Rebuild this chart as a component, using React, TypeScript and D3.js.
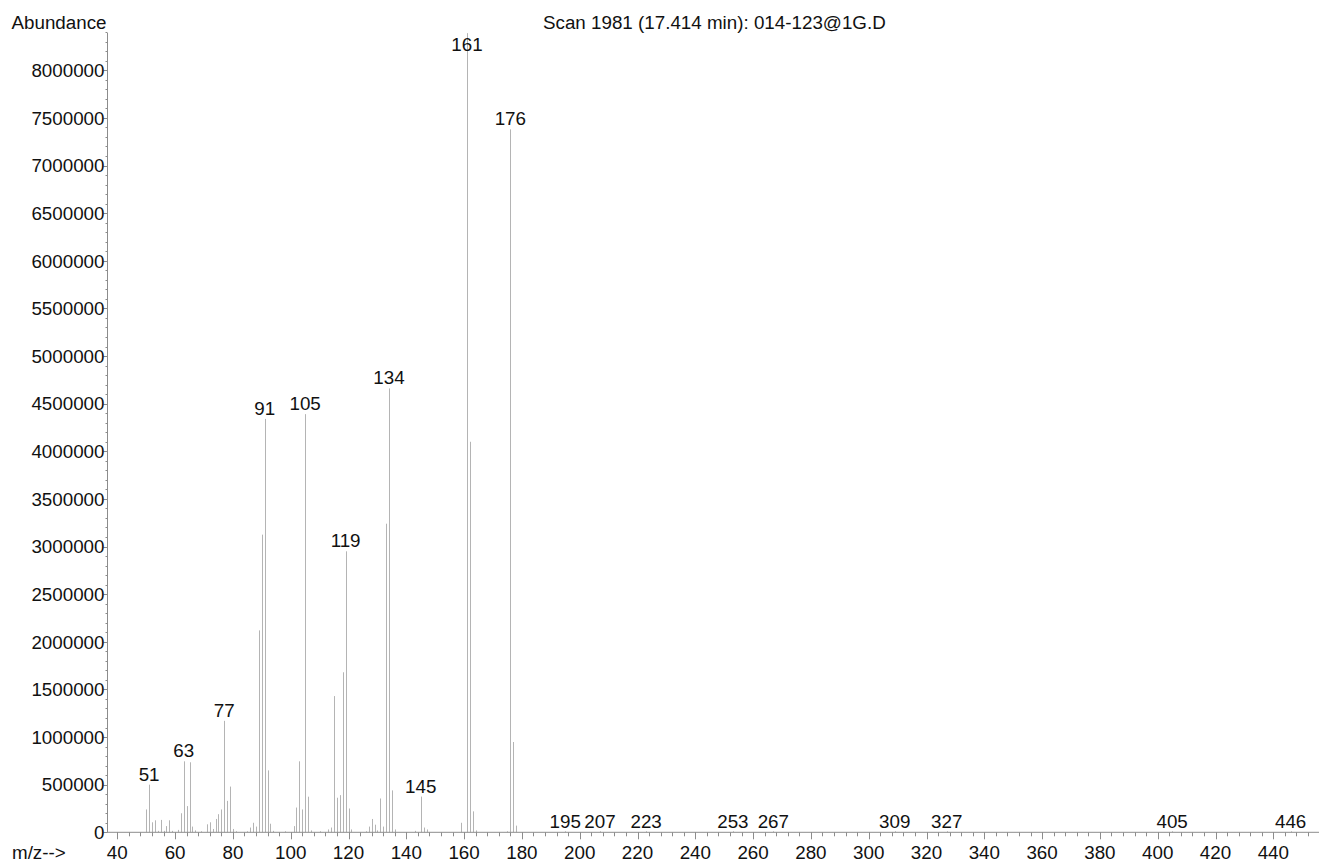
import React, { useEffect, useRef } from 'react';
import * as d3 from 'd3';

// spectrum: m/z values and their abundances
const mzValues = [
  50, 51, 52, 53, 54, 55, 56, 57, 58, 59, 61, 62, 63, 64, 65, 66, 67, 69,
  71, 72, 73, 74, 75, 76, 77, 78, 79, 80, 81, 85, 86, 87, 88, 89, 90, 91, 92, 93, 94,
  98, 101, 102, 103, 104, 105, 106, 107, 110, 113, 114, 115, 116, 117, 118, 119, 120, 121,
  126, 127, 128, 129, 130, 131, 132, 133, 134, 135, 136, 143, 145, 146, 147,
  159, 161, 162, 163, 164, 175, 176, 177, 178,
  195, 207, 223, 253, 267, 309, 327, 405, 446,
];
const abundances = [
  240000, 500000, 105000, 126000, 15000, 130000, 15000, 65000, 126000, 15000, 25000, 200000, 745000, 275000, 735000, 60000, 20000, 10000,
  84000, 105000, 35000, 140000, 190000, 240000, 1170000, 330000, 480000, 35000, 10000, 10000, 50000, 100000, 60000, 2120000, 3125000, 4340000, 650000, 90000, 15000,
  10000, 65000, 260000, 745000, 240000, 4390000, 374000, 20000, 8000, 30000, 50000, 1430000, 363000, 390000, 1680000, 2950000, 250000, 30000,
  10000, 60000, 140000, 80000, 20000, 355000, 60000, 3240000, 4660000, 440000, 30000, 15000, 375000, 50000, 30000,
  100000, 8390000, 4100000, 220000, 20000, 10000, 7380000, 948000, 70000,
  5000, 5000, 5000, 5000, 4000, 3000, 3000, 3000, 3000,
];
const labelledPeaks = [51, 63, 77, 91, 105, 119, 134, 145, 161, 176, 195, 207, 223, 253, 267, 309, 327, 405, 446];

const xTickValues = d3.range(40, 441, 20);
const xMinorTicks = d3.range(40, 456, 4);
const yTickValues = d3.range(0, 8000001, 500000);
const yMinorTicks = d3.range(0, 8400001, 100000);

const title = 'Scan 1981 (17.414 min): 014-123@1G.D';

const W = 1319;
const H = 864;
const FONT = '"Liberation Sans", Arial, Helvetica, sans-serif';

export default function App() {
  const ref = useRef<SVGSVGElement>(null);

  useEffect(() => {
    const svg = d3.select(ref.current);
    svg.selectAll('*').remove();

    const x = d3.scaleLinear().domain([40, 440]).range([117.3, 1273.3]);
    const y = d3.scaleLinear().domain([0, 8000000]).range([832.3, 70.3]);
    const x0 = x.invert(107.3);
    const axisColor = '#8c8c8c';
    const fs = 18.8;

    const data = mzValues.map((mz, i) => ({ mz, v: abundances[i] }));
    const px = (mz: number) => Math.round(x(mz)) + 0.5;

    // bars
    svg.append('g')
      .selectAll('line')
      .data(data)
      .enter()
      .append('line')
      .attr('x1', d => px(d.mz))
      .attr('x2', d => px(d.mz))
      .attr('y1', y(0))
      .attr('y2', d => Math.min(y(d.v), y(0) - 1))
      .attr('stroke', '#b4b4b4')
      .attr('stroke-width', 1);

    // axes lines
    svg.append('line')
      .attr('x1', px(x0)).attr('x2', px(x0))
      .attr('y1', 33).attr('y2', y(0))
      .attr('stroke', axisColor);
    svg.append('line')
      .attr('x1', px(x0)).attr('x2', W)
      .attr('y1', y(0)).attr('y2', y(0))
      .attr('stroke', axisColor);

    // y ticks
    svg.append('g')
      .selectAll('line')
      .data(yMinorTicks)
      .enter()
      .append('line')
      .attr('x1', px(x0) - 2).attr('x2', px(x0))
      .attr('y1', d => Math.round(y(d)) + 0.5).attr('y2', d => Math.round(y(d)) + 0.5)
      .attr('stroke', axisColor);
    svg.append('g')
      .selectAll('line')
      .data(yTickValues)
      .enter()
      .append('line')
      .attr('x1', px(x0) - 4).attr('x2', px(x0))
      .attr('y1', d => Math.round(y(d)) + 0.5).attr('y2', d => Math.round(y(d)) + 0.5)
      .attr('stroke', axisColor);
    svg.append('g')
      .selectAll('text')
      .data(yTickValues)
      .enter()
      .append('text')
      .attr('x', 104.5)
      .attr('y', d => y(d) + 6.7)
      .attr('text-anchor', 'end')
      .style('font-family', FONT)
      .style('font-size', fs + 'px')
      .attr('fill', '#111')
      .text(d => String(d));

    // x ticks
    svg.append('g')
      .selectAll('line')
      .data(xMinorTicks)
      .enter()
      .append('line')
      .attr('x1', d => px(d)).attr('x2', d => px(d))
      .attr('y1', y(0)).attr('y2', y(0) + 4)
      .attr('stroke', axisColor);
    svg.append('g')
      .selectAll('line')
      .data(xTickValues)
      .enter()
      .append('line')
      .attr('x1', d => px(d)).attr('x2', d => px(d))
      .attr('y1', y(0)).attr('y2', y(0) + 7)
      .attr('stroke', axisColor);
    svg.append('g')
      .selectAll('text')
      .data(xTickValues)
      .enter()
      .append('text')
      .attr('x', d => x(d))
      .attr('y', 859)
      .attr('text-anchor', 'middle')
      .style('font-family', FONT)
      .style('font-size', fs + 'px')
      .attr('fill', '#111')
      .text(d => String(d));

    // peak labels
    const labelled = data.filter(d => labelledPeaks.includes(d.mz));
    svg.append('g')
      .selectAll('text')
      .data(labelled)
      .enter()
      .append('text')
      .attr('x', d => x(d.mz))
      .attr('y', d => Math.max(y(d.v) - 4, 51))
      .attr('text-anchor', 'middle')
      .style('font-family', FONT)
      .style('font-size', fs + 'px')
      .attr('fill', '#111')
      .text(d => String(d.mz));

    // titles
    svg.append('text')
      .attr('x', 11.5).attr('y', 29)
      .style('font-family', FONT).style('font-size', fs + 'px')
      .attr('fill', '#111')
      .text('Abundance');
    svg.append('text')
      .attr('x', 12).attr('y', 859)
      .style('font-family', FONT).style('font-size', fs + 'px')
      .attr('fill', '#111')
      .text('m/z-->');
    svg.append('text')
      .attr('x', 543).attr('y', 29)
      .style('font-family', FONT).style('font-size', fs + 'px')
      .attr('fill', '#111')
      .text(title);
  }, []);

  return (
    <svg ref={ref} width={W} height={H}
      style={{ position: 'absolute', left: 0, top: 0, background: '#fff' }} />
  );
}
